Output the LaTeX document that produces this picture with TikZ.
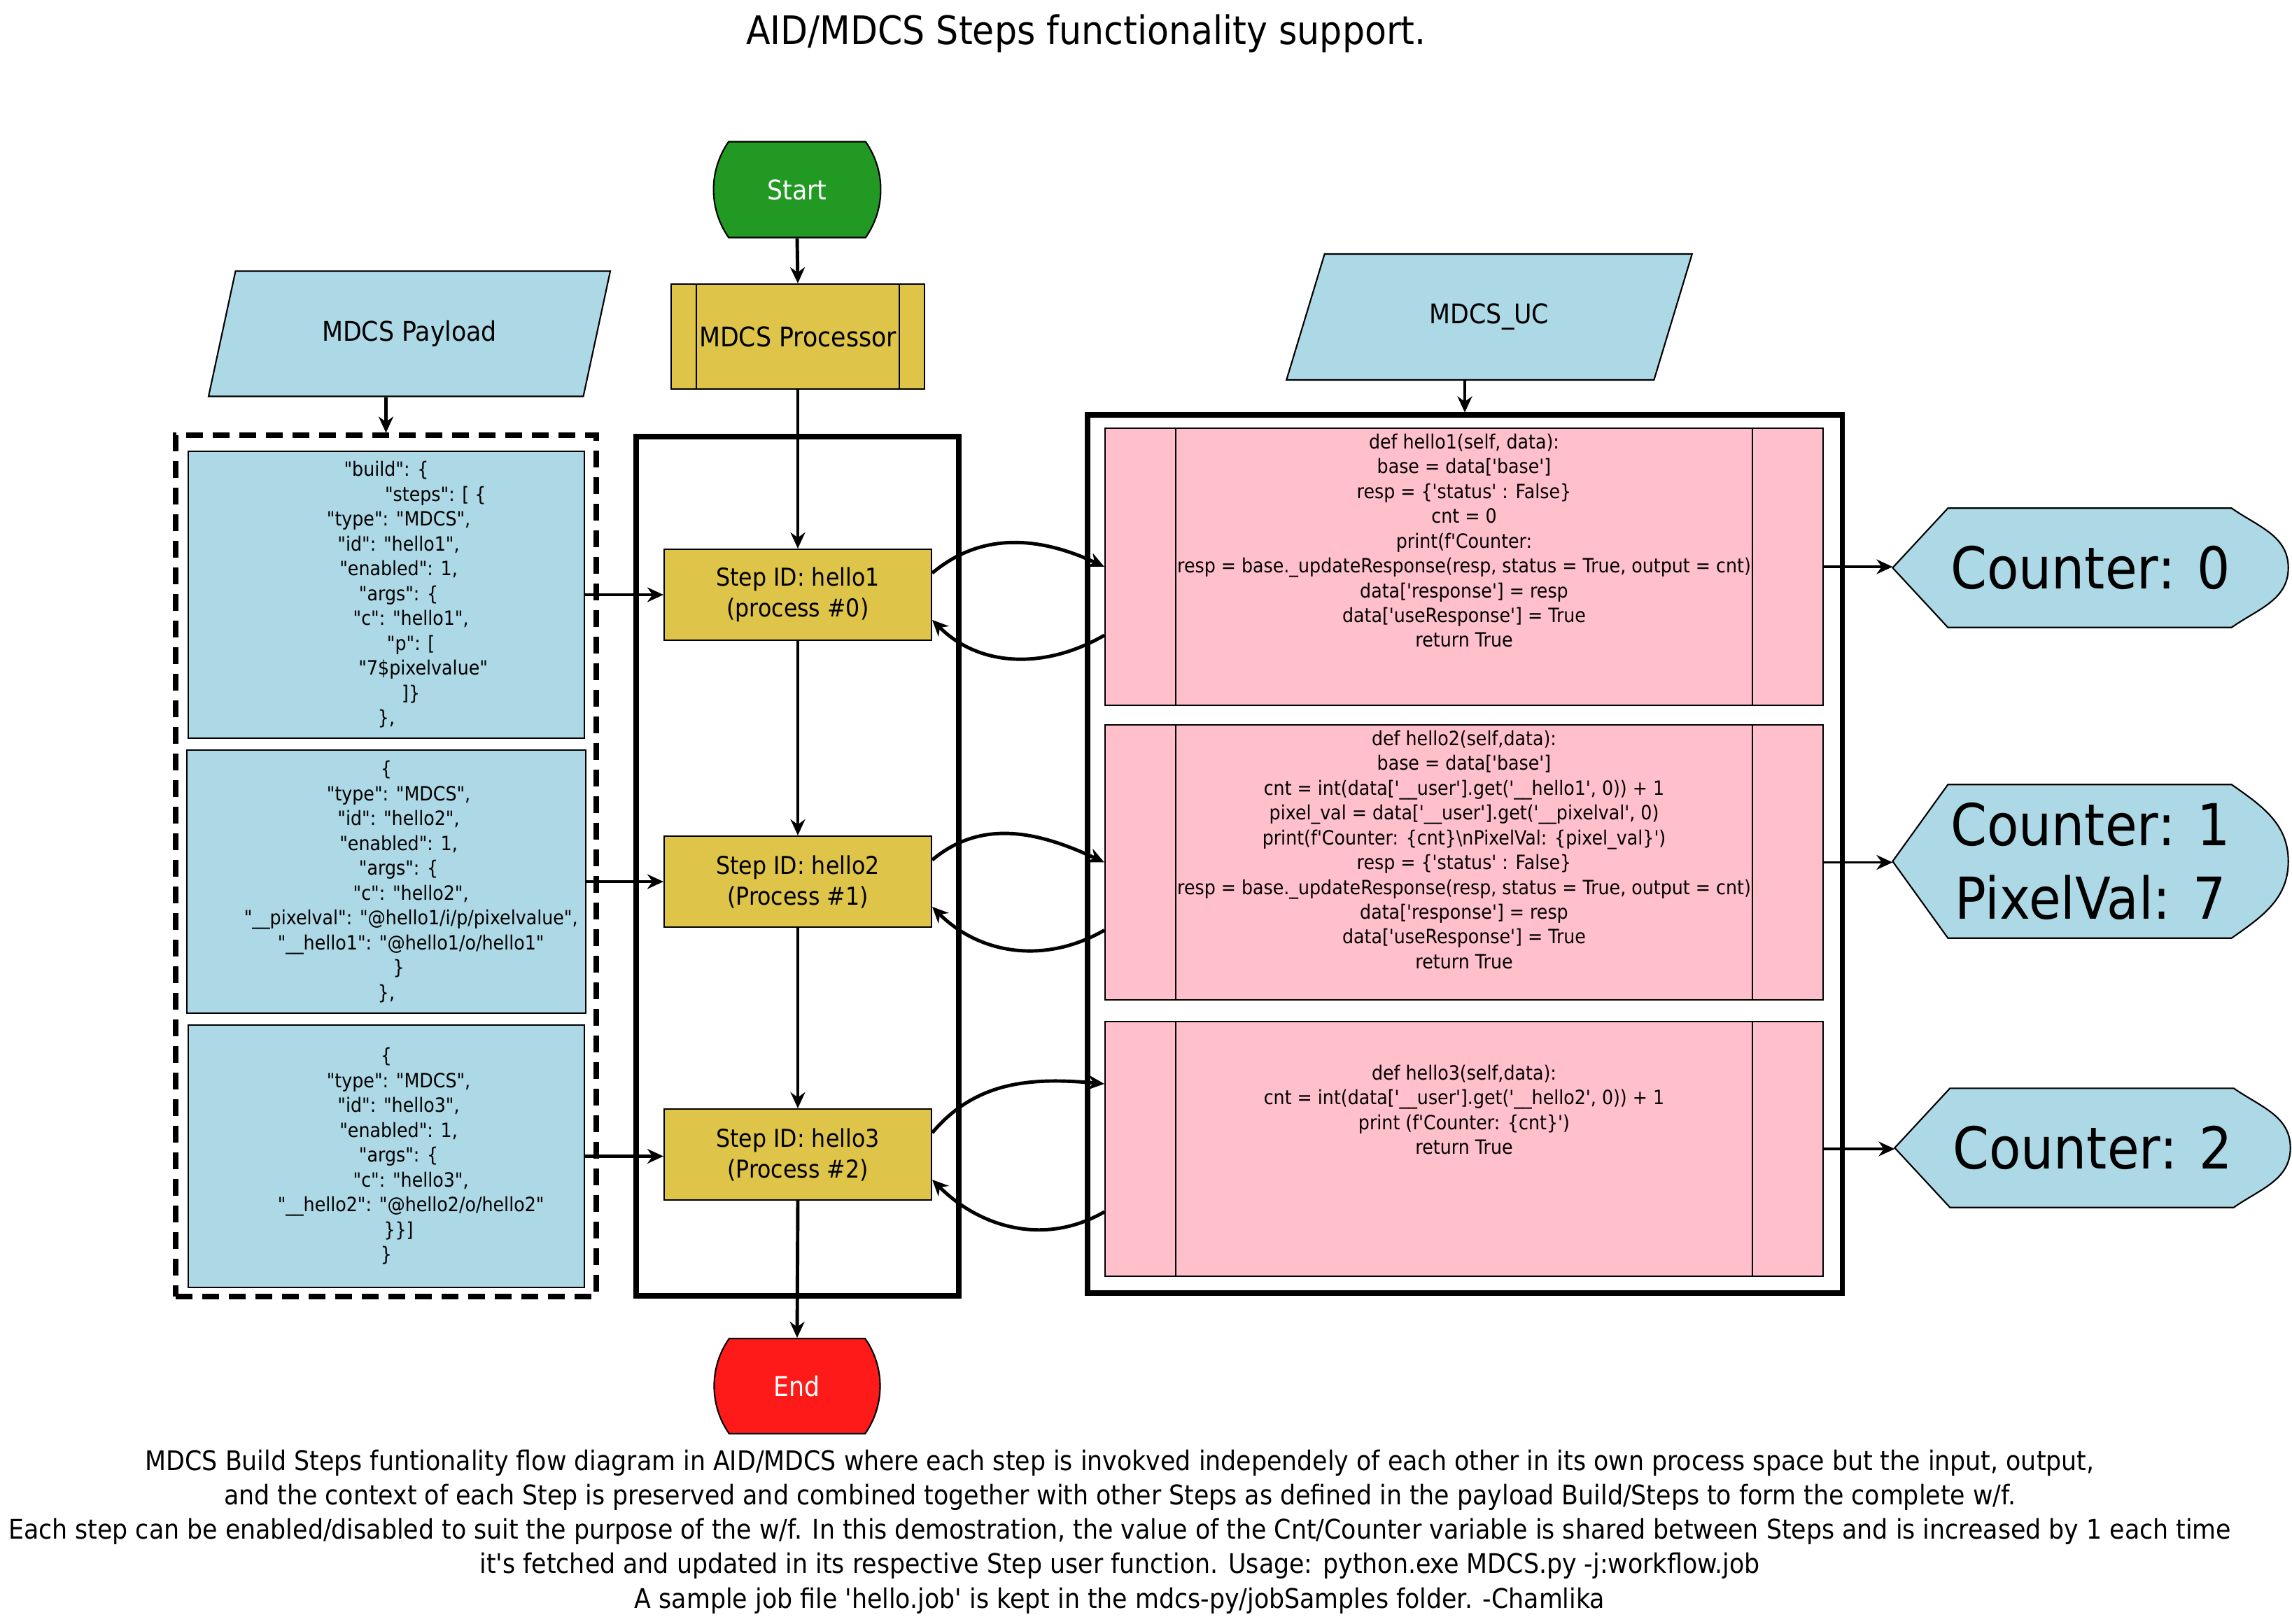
\documentclass[tikz,border=0pt]{standalone}
\usepackage{fontspec}
\setmainfont{DejaVu Sans}[FakeStretch=0.9,Ligatures=TeXOff]
\usepackage{xcolor}
\usepackage{tikz}
\usetikzlibrary{shapes.geometric, shapes.misc, arrows.meta, backgrounds}

\definecolor{termgreen}{RGB}{34,153,34}
\definecolor{termred}{RGB}{255,26,26}
\definecolor{procgold}{RGB}{222,196,72}
\definecolor{payblue}{RGB}{173,216,230}
\definecolor{ucpink}{RGB}{255,192,203}

\begin{document}
\begin{tikzpicture}[
    >={Stealth[length=0.23cm,width=0.21cm]},
    term/.style={rounded rectangle, rounded rectangle arc length=70, draw, line width=0.6pt, minimum width=2.4cm, minimum height=1.37cm, text=white, font=\fontsize{11}{13}\selectfont},
    stepbox/.style={rectangle, draw, line width=0.6pt, fill=procgold, minimum width=3.82cm, minimum height=1.3cm, align=center, font=\fontsize{10}{12.5}\selectfont},
    jsonbox/.style={rectangle, draw, line width=0.6pt, fill=payblue, minimum width=5.66cm, align=center, font=\fontsize{8}{10.1}\selectfont},
    codebox/.style={rectangle, draw, line width=0.6pt, fill=ucpink, minimum width=10.26cm},
    codetext/.style={anchor=north, align=center, inner sep=0pt, font=\fontsize{8}{10.1}\selectfont},
    iobox/.style={trapezium, trapezium stretches=true, draw, line width=0.6pt, fill=payblue, minimum height=1.79cm, font=\fontsize{11}{13}\selectfont},
    groupframe/.style={rectangle, draw, line width=2pt, inner sep=0pt},
    counter/.style={minimum width=5.64cm, inner sep=0pt, align=center, font=\fontsize{23.5}{30}\selectfont},
    flow/.style={->, line width=1.4pt},
    outarrow/.style={->, line width=0.9pt}
]
\useasboundingbox (0,0) rectangle (32.75,-23.21);

\node[font=\fontsize{16}{18}\selectfont] (title) at (15.52,-0.48) {AID/MDCS Steps functionality support.};

\node[term, fill=termgreen] (start) at (11.39,-2.71) {Start};
\node[stepbox, minimum width=3.62cm, minimum height=1.5cm, font=\fontsize{11}{13}\selectfont] (proc) at (11.40,-4.81) {MDCS Processor};
\draw[line width=0.6pt] ([xshift=0.37cm]proc.north west) -- ([xshift=0.37cm]proc.south west)
    ([xshift=-0.37cm]proc.north east) -- ([xshift=-0.37cm]proc.south east);

\node[iobox, trapezium left angle=70.8, trapezium right angle=109.2, minimum width=5.76cm] (pay) at (5.85,-4.77) {MDCS Payload};
\node[iobox, trapezium left angle=69.9, trapezium right angle=110.1, minimum width=5.81cm, minimum height=1.80cm] (uc) at (21.28,-4.53) {MDCS\_UC};

\node[groupframe, dash pattern=on 0.24cm off 0.14cm, minimum width=6.01cm, minimum height=12.31cm] (plist) at (5.515,-12.375) {};
\node[groupframe, minimum width=4.61cm, minimum height=12.28cm] (slist) at (11.395,-12.38) {};
\node[groupframe, minimum width=10.78cm, minimum height=12.55cm] (uclist) at (20.93,-12.205) {};

\node[jsonbox, minimum height=4.10cm] (b1) at (5.52,-8.50) {"build": \{\\
\hspace*{40pt}"steps": [ \{\\
\hspace*{10pt}"type": "MDCS",\\
\hspace*{10pt}"id": "hello1",\\
\hspace*{10pt}"enabled": 1,\\
\hspace*{10pt}"args": \{\\
\hspace*{20pt}"c": "hello1",\\
\hspace*{20pt}"p": [\\
\hspace*{30pt}"7\$pixelvalue"\\
\hspace*{20pt}]\}\\
\},};
\node[jsonbox, minimum height=3.76cm] (b2) at (5.52,-12.60) {\{\\
\hspace*{10pt}"type": "MDCS",\\
\hspace*{10pt}"id": "hello2",\\
\hspace*{10pt}"enabled": 1,\\
\hspace*{10pt}"args": \{\\
\hspace*{20pt}"c": "hello2",\\
\hspace*{20pt}"\_\_pixelval": "@hello1/i/p/pixelvalue",\\
\hspace*{20pt}"\_\_hello1": "@hello1/o/hello1"\\
\hspace*{10pt}\}\\
\},};
\node[jsonbox, minimum height=3.75cm] (b3) at (5.52,-16.525) {\{\\
\hspace*{10pt}"type": "MDCS",\\
\hspace*{10pt}"id": "hello3",\\
\hspace*{10pt}"enabled": 1,\\
\hspace*{10pt}"args": \{\\
\hspace*{20pt}"c": "hello3",\\
\hspace*{20pt}"\_\_hello2": "@hello2/o/hello2"\\
\hspace*{10pt}\}\}]\\
\}};

\foreach \i/\y/\p in {1/8.50/process \#0, 2/12.60/Process \#1, 3/16.50/Process \#2}
    \node[stepbox] (s\i) at (11.40,-\y) {Step ID: hello\i\\(\p)};

\foreach \i/\y/\h in {1/8.10/3.96, 2/12.325/3.93, 3/16.42/3.64} {
    \node[codebox, minimum height=\h cm] (p\i) at (20.92,-\y) {};
    \draw[line width=0.6pt] ([xshift=1.02cm]p\i.north west) -- ([xshift=1.02cm]p\i.south west)
        ([xshift=-1.02cm]p\i.north east) -- ([xshift=-1.02cm]p\i.south east);
}
\node[codetext] (code1) at ([yshift=-0.08cm]p1.north) {def hello1(self, data):\\
base = data['base']\\
resp = \{'status' : False\}\\
cnt = 0\\
print(f'Counter:\\
resp = base.\_updateResponse(resp, status = True, output = cnt)\\
data['response'] = resp\\
data['useResponse'] = True\\
return True};
\node[codetext] (code2) at ([yshift=-0.08cm]p2.north) {def hello2(self,data):\\
base = data['base']\\
cnt = int(data['\_\_user'].get('\_\_hello1', 0)) + 1\\
pixel\_val = data['\_\_user'].get('\_\_pixelval', 0)\\
print(f'Counter: \{cnt\}\textbackslash nPixelVal: \{pixel\_val\}')\\
resp = \{'status' : False\}\\
resp = base.\_updateResponse(resp, status = True, output = cnt)\\
data['response'] = resp\\
data['useResponse'] = True\\
return True};
\node[codetext] (code3) at ([yshift=-0.62cm]p3.north) {def hello3(self,data):\\
cnt = int(data['\_\_user'].get('\_\_hello2', 0)) + 1\\
print (f'Counter: \{cnt\}')\\
return True};

\node[counter, minimum height=1.69cm] (c1) at (29.87,-8.115) {Counter: 0};
\node[counter, minimum height=2.18cm] (c2) at (29.87,-12.31) {Counter: 1\\PixelVal: 7};
\node[counter, minimum height=1.69cm] (c3) at (29.90,-16.405) {Counter: 2};
\begin{scope}[on background layer]
    \foreach \c in {c1,c2,c3}
        \draw[fill=payblue, line width=0.6pt] (\c.west) -- ([xshift=0.79cm]\c.north west) -- ([xshift=-0.81cm]\c.north east)
            to[out=-35,in=90] (\c.east) to[out=-90,in=35] ([xshift=-0.81cm]\c.south east) -- ([xshift=0.79cm]\c.south west) -- cycle;
\end{scope}

\node[term, fill=termred, minimum height=1.36cm] (stop) at (11.39,-19.81) {End};

\draw[flow] (start.south) -- (proc.north);
\draw[flow] (proc.south) -- (s1.north);
\draw[flow] (s1.south) -- (s2.north);
\draw[flow] (s2.south) -- (s3.north);
\draw[flow] (s3.south) -- (stop.north);
\draw[flow] (pay.south -| plist.north) -- (plist.north);
\draw[flow] (uc.south -| uclist.north) -- (uclist.north);

\foreach \i in {1,2,3} {
    \draw[flow] (b\i.east) -- (b\i.east -| s\i.west);
    \draw[outarrow] (p\i.east) -- (p\i.east -| c\i.west);
}
\foreach \i/\up/\dn/\o/\n in {1/0/0.98/40/155, 2/0/0.97/40/155, 3/0.93/0.90/50/175} {
    \draw[flow] ([yshift=0.31cm]s\i.east) to[out=\o,in=\n] ([yshift=\up cm]p\i.west);
    \draw[flow] ([yshift=-\dn cm]p\i.west) to[out=210,in=-45] ([yshift=-0.36cm]s\i.east);
}

\node[font=\fontsize{11}{14}\selectfont, align=center] (caption) at (16.0,-21.89) {MDCS Build Steps funtionality flow diagram in AID/MDCS where each step is invokved independely of each other in its own process space but the input, output,\\
and the context of each Step is preserved and combined together with other Steps as defined in the payload Build/Steps to form the complete w/f.\\
Each step can be enabled/disabled to suit the purpose of the w/f. In this demostration, the value of the Cnt/Counter variable is shared between Steps and is increased by 1 each time\\
it's fetched and updated in its respective Step user function. Usage: python.exe MDCS.py -j:workflow.job\\
A sample job file 'hello.job' is kept in the mdcs-py/jobSamples folder. -Chamlika};
\end{tikzpicture}
\end{document}
